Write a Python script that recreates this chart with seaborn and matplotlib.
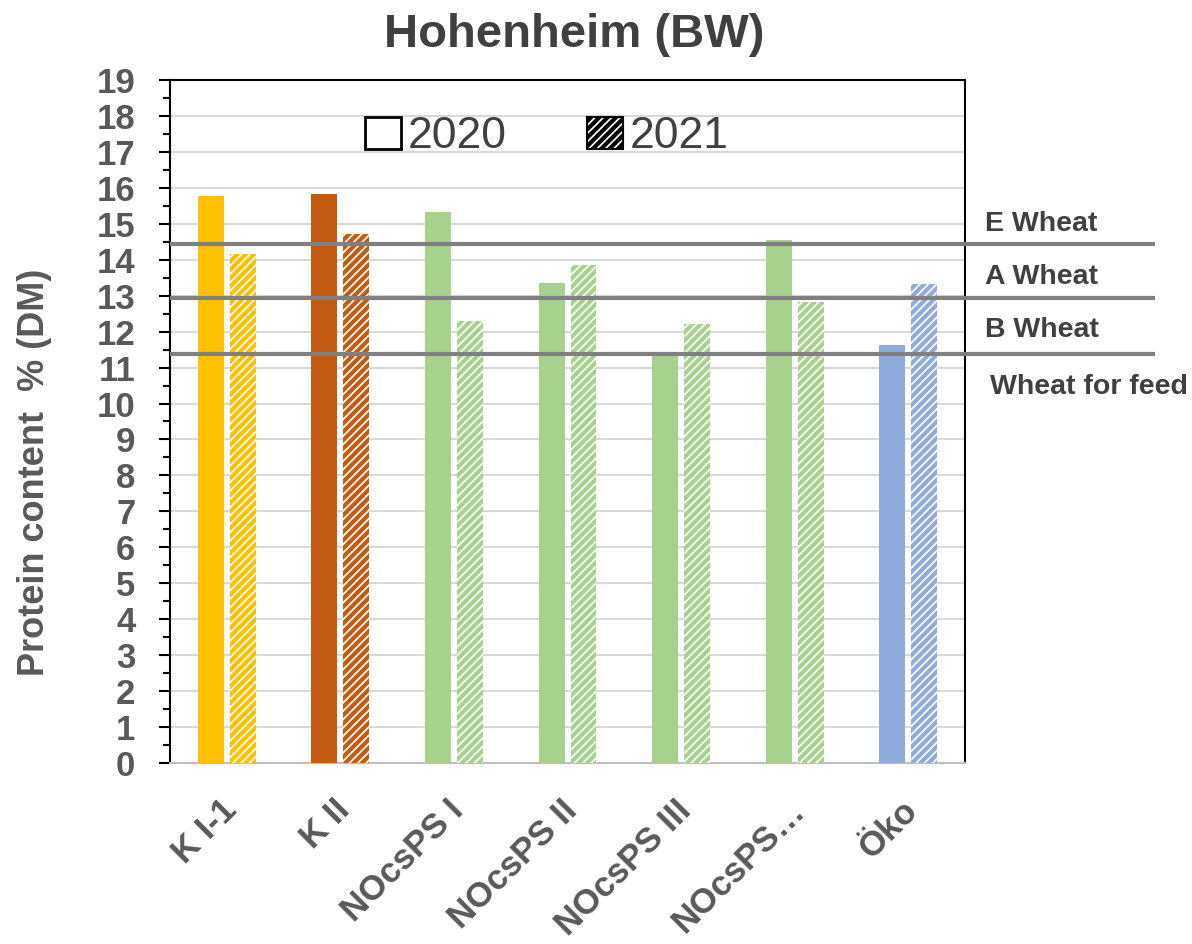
import matplotlib
matplotlib.use("Agg")
import matplotlib.pyplot as plt
from matplotlib.patches import Patch
from matplotlib.ticker import MultipleLocator
from matplotlib.transforms import ScaledTranslation
import seaborn as sns
import pandas as pd

# Protein content (% of dry matter) per cultivation system and year
varieties = ["K I-1", "K II", "NOcsPS I", "NOcsPS II", "NOcsPS III", "NOcsPS…", "Öko"]
protein_2020 = [15.78, 15.84, 15.33, 13.36, 11.34, 14.54, 11.64]
protein_2021 = [14.17, 14.72, 12.29, 13.85, 12.21, 12.82, 13.33]
years = ["2020", "2021"]
bar_colors = ["#FFC000", "#C55A11", "#A9D18E", "#A9D18E", "#A9D18E", "#A9D18E", "#8FAADC"]

# Quality class thresholds
class_limits = [14.45, 12.93, 11.39]
class_labels = ["E Wheat", "A Wheat", "B Wheat", "Wheat for feed"]

df = pd.DataFrame({
    "Variety": varieties * 2,
    "Year": [years[0]] * len(varieties) + [years[1]] * len(varieties),
    "Protein": protein_2020 + protein_2021,
})

sns.set_theme(style="white")
plt.rcParams["font.family"] = ["Liberation Sans", "DejaVu Sans"]
plt.rcParams["hatch.linewidth"] = 3.0

fig = plt.figure(figsize=(11.92, 9.44), dpi=100)
ax = fig.add_axes([0.1426, 0.1917, 0.667, 0.7236])

sns.barplot(data=df, x="Variety", y="Protein", hue="Year", order=varieties,
            hue_order=years, width=0.563, gap=0.188, ax=ax, legend=False,
            errorbar=None, zorder=3)

# colour the bars: solid for the first year, hatched for the second
for bar, c in zip(ax.containers[0], bar_colors):
    bar.set_facecolor(c)
    bar.set_edgecolor(c)
    bar.set_linewidth(0)
for bar, c in zip(ax.containers[1], bar_colors):
    bar.set_facecolor("white")
    bar.set_edgecolor(c)
    bar.set_hatch("////")
    bar.set_linewidth(0)

ax.set_ylim(0, 19)
ax.set_xlim(-0.5, len(varieties) - 0.5)
ax.yaxis.set_major_locator(MultipleLocator(1))
ax.yaxis.set_minor_locator(MultipleLocator(0.5))
ax.grid(axis="y", which="major", color="#D9D9D9", linewidth=1.5, zorder=0)
ax.set_axisbelow(True)

for side in ["left", "top", "right"]:
    ax.spines[side].set_color("black")
    ax.spines[side].set_linewidth(1.5)
ax.spines["bottom"].set_color("#BFBFBF")
ax.spines["bottom"].set_linewidth(1.5)

ax.tick_params(axis="y", which="major", direction="out", length=8, width=1.5,
               color="black", left=True, labelsize=25, labelcolor="#595959", pad=17)
ax.tick_params(axis="y", which="minor", direction="out", length=5, width=1.5,
               color="black", left=True)
ax.tick_params(axis="x", length=0, labelsize=25, labelcolor="#595959", pad=14)
for lab in ax.get_yticklabels():
    lab.set_fontweight("bold")
label_shift = ScaledTranslation(-0.07, -0.11, fig.dpi_scale_trans)
for lab in ax.get_xticklabels():
    lab.set_fontweight("bold")
    lab.set_rotation(45)
    lab.set_ha("right")
    lab.set_rotation_mode("anchor")
    lab.set_transform(lab.get_transform() + label_shift)

ax.set_xlabel("")
ax.set_ylabel("Protein content  % (DM)", fontsize=26, fontweight="bold",
              color="#595959")
ax.yaxis.set_label_coords(-0.148, 0.425)
ax.set_title("Hohenheim (BW)", fontsize=34, fontweight="bold", color="#404040",
             pad=24, x=0.508)

# threshold lines reaching into the right margin, with class names
trans = ax.get_yaxis_transform()
x_end = (1155 / 1192 - 0.1426) / 0.667
for y in class_limits:
    ax.plot([0, x_end], [y, y], transform=trans, color="#808080", linewidth=3,
            clip_on=False, zorder=4, solid_capstyle="butt")
label_y = [14.99, 13.52, 12.04, 10.46]
x_text = (985 / 1192 - 0.1426) / 0.667
for y, txt in zip(label_y, class_labels):
    ax.text(x_text if txt != "Wheat for feed" else x_text + 0.006, y, txt,
            transform=trans, fontsize=20.5, fontweight="bold", color="#404040",
            ha="left", va="center", clip_on=False)

handles = [Patch(facecolor="white", edgecolor="black", linewidth=2),
           Patch(facecolor="white", edgecolor="black", hatch="////", linewidth=1.5)]
leg = ax.legend(handles, years, loc="center", bbox_to_anchor=(0.474, 0.9166), ncol=2,
                frameon=False, fontsize=32, handlelength=0.82, handleheight=0.72,
                handletextpad=0.15, columnspacing=1.8)
for t in leg.get_texts():
    t.set_color("#404040")

fig.savefig("out.png", dpi=100, facecolor="white")
